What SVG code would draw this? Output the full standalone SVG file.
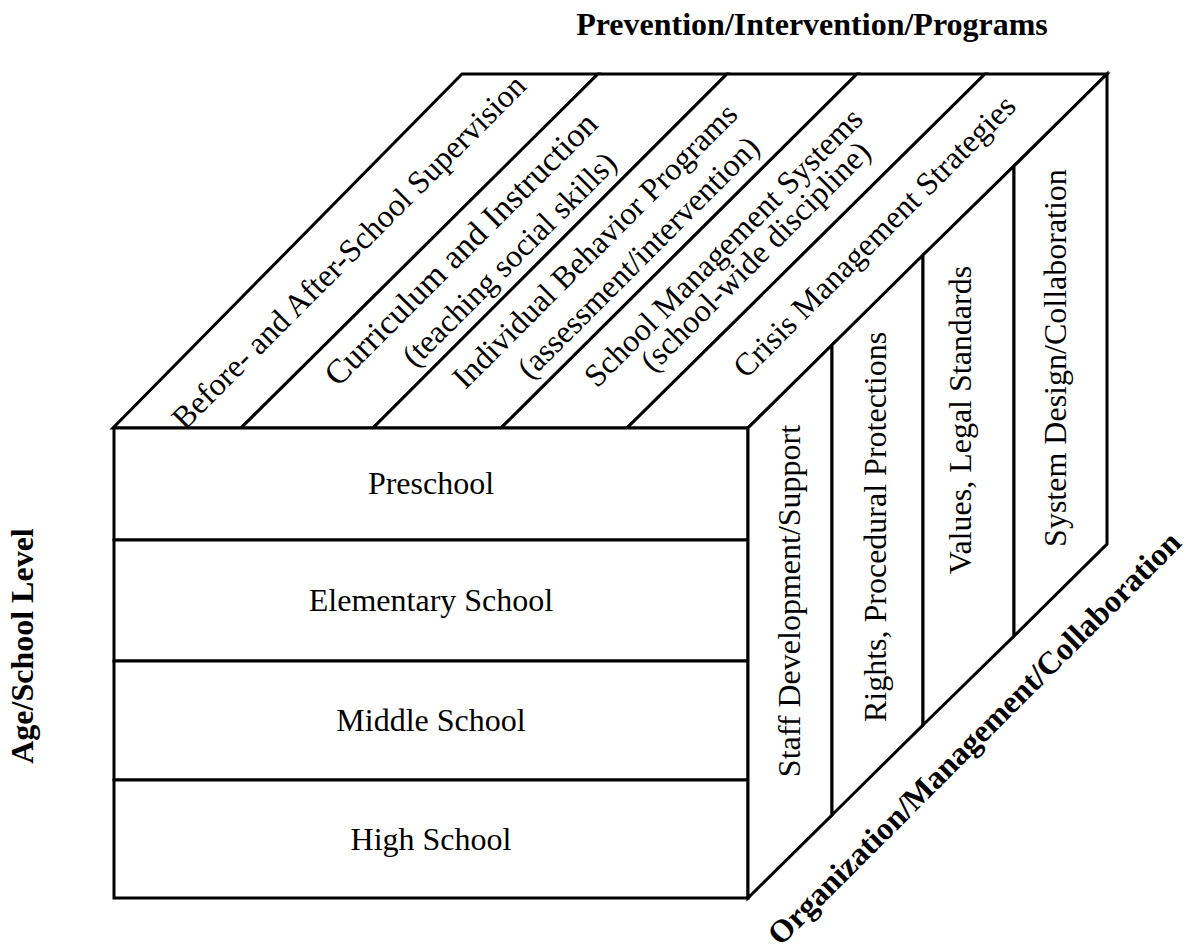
<svg xmlns="http://www.w3.org/2000/svg" width="1192" height="950" viewBox="0 0 1192 950">
<style>
.face{fill:#fff;stroke:#000;stroke-width:3;stroke-linejoin:miter}
.ln{stroke:#000;stroke-width:3;fill:none}
.lbl{font-family:"Liberation Serif","Times New Roman",serif;font-size:32px;fill:#000}
.big{font-size:34px}
.hd{font-family:"Liberation Serif","Times New Roman",serif;font-size:32px;font-weight:bold;fill:#000}
</style>
<rect width="1192" height="950" fill="#fff"/>

<g id="axis-labels">
  <text id="title-top" class="hd" x="812" y="35" text-anchor="middle">Prevention/Intervention/Programs</text>
  <text id="title-left" class="hd" transform="translate(33,646) rotate(-90)" text-anchor="middle">Age/School Level</text>
  <text id="title-right" class="hd" transform="translate(976,740) rotate(-45)" y="8" text-anchor="middle">Organization/Management/Collaboration</text>
</g>

<g id="top-face">
  <g id="top-1">
    <polygon class="face" points="113,428 241,428 598,74 462,74"/>
    <text class="lbl" transform="translate(348.5,251.5) rotate(-45)" y="11" text-anchor="middle">Before- and After-School Supervision</text>
  </g>
  <g id="top-2">
    <polygon class="face" points="241,428 373,428 727,74 598,74"/>
    <text class="lbl big" transform="translate(461,249) rotate(-45)" y="11" text-anchor="middle">Curriculum and Instruction</text>
    <text class="lbl" transform="translate(509,259) rotate(-45)" y="11" text-anchor="middle">(teaching social skills)</text>
  </g>
  <g id="top-3">
    <polygon class="face" points="373,428 501,428 857,74 727,74"/>
    <text class="lbl" transform="translate(594.5,245.5) rotate(-45)" y="11" text-anchor="middle">Individual Behavior Programs</text>
    <text class="lbl" transform="translate(638,257) rotate(-45)" y="11" text-anchor="middle">(assessment/intervention)</text>
  </g>
  <g id="top-4">
    <polygon class="face" points="501,428 627,428 985,74 857,74"/>
    <text class="lbl" transform="translate(723,247) rotate(-45)" y="11" text-anchor="middle">School Management Systems</text>
    <text class="lbl" transform="translate(755,256) rotate(-45)" y="11" text-anchor="middle">(school-wide discipline)</text>
  </g>
  <g id="top-5">
    <polygon class="face" points="627,428 748,428 1107,74 985,74"/>
    <text class="lbl" transform="translate(874,236) rotate(-45)" y="11" text-anchor="middle">Crisis Management Strategies</text>
  </g>
</g>

<g id="front-face">
  <g id="row-preschool">
    <rect class="face" x="114" y="428" width="634" height="112"/>
    <text class="lbl" x="431" y="494" text-anchor="middle">Preschool</text>
  </g>
  <g id="row-elementary">
    <rect class="face" x="114" y="540" width="634" height="121"/>
    <text class="lbl" x="431" y="611" text-anchor="middle">Elementary School</text>
  </g>
  <g id="row-middle">
    <rect class="face" x="114" y="661" width="634" height="119"/>
    <text class="lbl" x="431" y="731" text-anchor="middle">Middle School</text>
  </g>
  <g id="row-high">
    <rect class="face" x="114" y="780" width="634" height="118"/>
    <text class="lbl" x="431" y="850" text-anchor="middle">High School</text>
  </g>
</g>

<g id="right-face">
  <g id="side-1">
    <polygon class="face" points="748,428 832,345 832,815 748,898"/>
    <text class="lbl" transform="translate(800,601) rotate(-90)" text-anchor="middle">Staff Development/Support</text>
  </g>
  <g id="side-2">
    <polygon class="face" points="832,345 923,255 923,725 832,815"/>
    <text class="lbl" transform="translate(886,527) rotate(-90)" text-anchor="middle">Rights, Procedural Protections</text>
  </g>
  <g id="side-3">
    <polygon class="face" points="923,255 1014,166 1014,636 923,725"/>
    <text class="lbl" transform="translate(971,420) rotate(-90)" text-anchor="middle">Values, Legal Standards</text>
  </g>
  <g id="side-4">
    <polygon class="face" points="1014,166 1107,74 1107,544 1014,636"/>
    <text class="lbl" transform="translate(1066,358) rotate(-90)" text-anchor="middle">System Design/Collaboration</text>
  </g>
</g>

<g id="connectors"></g>
</svg>
